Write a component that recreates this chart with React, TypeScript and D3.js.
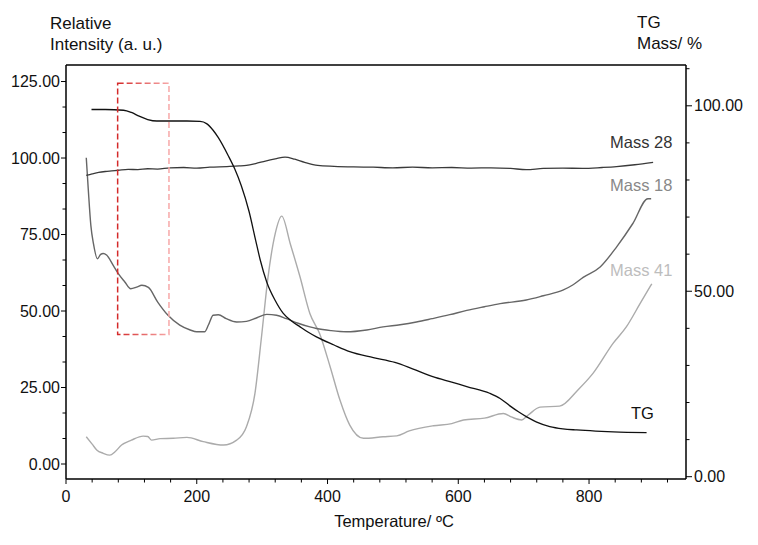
import React from "react";
import * as d3 from "d3";

// ---- data ----
const tgT = [39, 60, 88, 100, 112, 125, 139, 160, 185, 205, 215, 225, 233, 248, 258, 268, 280, 290, 297, 307, 320, 332, 345, 358, 370, 383, 410, 434, 470, 503, 530, 561, 590, 613, 648, 664, 679, 692, 704, 720, 740, 760, 781, 810, 837, 888];
const tgV = [99.0, 99.0, 98.8, 98.2, 97.2, 96.3, 95.9, 95.9, 95.9, 95.8, 95.2, 93.4, 91.4, 86.6, 83.0, 78.5, 71.5, 63.8, 58.5, 52.5, 47.5, 44.1, 42.0, 40.4, 39.0, 37.7, 35.5, 33.7, 32.1, 30.8, 29.1, 27.0, 25.5, 24.3, 22.5, 21.1, 19.1, 17.5, 16.2, 14.7, 13.5, 12.9, 12.6, 12.3, 12.1, 11.9];

const m28T = [31, 40, 50, 60, 70, 80, 95, 110, 125, 140, 159, 180, 200, 220, 246, 265, 276, 290, 305, 320, 335, 350, 365, 385, 410, 440, 470, 500, 530, 560, 590, 620, 650, 680, 704, 730, 760, 790, 820, 842, 870, 898];
const m28V = [94.3, 94.8, 95.3, 95.6, 95.8, 96.0, 96.3, 96.2, 96.5, 96.4, 96.8, 96.9, 96.7, 97.0, 97.2, 97.4, 97.6, 98.2, 99.0, 99.7, 100.3, 99.6, 98.6, 97.6, 97.3, 97.1, 97.0, 96.8, 97.0, 96.8, 96.9, 96.7, 96.8, 96.6, 96.2, 96.6, 96.7, 96.6, 96.9, 97.2, 97.8, 98.6];

const m18T = [31, 34, 38, 42, 48, 53, 57, 62, 72, 80, 90, 99, 108, 116, 126, 140, 156, 174, 190, 200, 212, 218, 225, 233, 245, 261, 276, 292, 307, 322, 337, 355, 373, 383, 405, 429, 460, 485, 511, 536, 560, 587, 613, 640, 664, 704, 730, 760, 775, 791, 817, 842, 867, 890, 895];
const m18V = [100.1, 90, 78, 72, 67.1, 68.5, 68.8, 68.3, 65.0, 62.2, 59.5, 57.3, 57.8, 58.4, 57.7, 53.0, 48.6, 45.4, 43.8, 43.2, 43.2, 45.5, 48.6, 48.8, 47.5, 46.4, 46.6, 47.8, 48.9, 48.6, 47.5, 46.0, 44.8, 44.3, 43.6, 43.2, 43.8, 44.8, 45.5, 46.4, 47.5, 48.8, 50.2, 51.4, 52.4, 53.6, 55.0, 56.8, 58.5, 61.0, 64.4, 70.9, 78.6, 86.7, 86.7];

const m41T = [31, 40, 47, 57, 67, 75, 85, 100, 118, 125, 131, 144, 164, 185, 210, 241, 261, 276, 289, 299, 309, 320, 330, 343, 358, 373, 388, 404, 419, 434, 455, 485, 506, 525, 562, 590, 608, 640, 669, 681, 697, 707, 725, 755, 783, 806, 837, 857, 878, 896];
const m41V = [8.9, 6.5, 4.6, 3.5, 2.9, 4.0, 6.2, 7.8, 9.1, 9.0, 7.8, 8.3, 8.4, 8.7, 7.3, 6.2, 7.8, 12.2, 23.1, 41.5, 61.1, 75.3, 81.0, 72.0, 61.1, 49.2, 42.6, 31.8, 20.9, 12.7, 8.4, 8.9, 9.2, 10.8, 12.5, 13.2, 14.4, 15.0, 16.5, 15.4, 14.4, 16.0, 18.6, 18.9, 24.2, 29.6, 39.5, 44.8, 52.4, 58.9];

const xTickLabels = [0, 200, 400, 600, 800];
const leftTickLabels = [0, 25, 50, 75, 100, 125];
const rightTickLabels = [0, 50, 100];
const boxX = [79, 157.5];
const boxY = [42.3, 124.4];

const FONT = "'Liberation Sans', Arial, Helvetica, sans-serif";

export default function App() {
  const L = 66, R = 686, T = 65, B = 479;
  const x = d3.scaleLinear().domain([0, 948.3]).range([L, R]);
  const yL = d3.scaleLinear().domain([-4.9, 130.4]).range([B, T]);
  const yR = d3.scaleLinear().domain([-0.62, 111.0]).range([B, T]);

  const mk = (ts: number[], vs: number[], ys: d3.ScaleLinear<number, number>) =>
    d3.line<number>().x((_, i) => x(ts[i])).y((v) => ys(v)).curve(d3.curveMonotoneX)(vs) || "";

  const xMinor = d3.range(0, 921, 40);
  const yLMinor = d3.range(0, 126, 25 / 3);
  const yRMinor = d3.range(0, 111, 10);

  const bx0 = x(boxX[0]), bx1 = x(boxX[1]);
  const by0 = yL(boxY[1]), by1 = yL(boxY[0]);

  return (
    <svg width={758} height={545} style={{ position: "absolute", left: 0, top: 0, background: "#fff" }} fontFamily={FONT}>
      <defs>
        <linearGradient id="boxg" gradientUnits="userSpaceOnUse" x1={bx0} y1={0} x2={bx1} y2={0}>
          <stop offset="0" stopColor="#d42a2a" />
          <stop offset="1" stopColor="#f7a8a8" />
        </linearGradient>
      </defs>

      {/* frame */}
      <line x1={L} x2={R} y1={T} y2={T} stroke="#000" strokeWidth={1.5} />
      <line x1={L} x2={R} y1={B} y2={B} stroke="#000" strokeWidth={1.5} />
      <line x1={L} x2={L} y1={T} y2={B} stroke="#000" strokeWidth={1.5} />
      <line x1={R} x2={R} y1={T} y2={B} stroke="#000" strokeWidth={1.5} />

      {/* x ticks */}
      {xMinor.map((t) => (
        <line key={"xm" + t} x1={x(t)} x2={x(t)} y1={B} y2={B + (t % 200 === 0 ? 5 : 3.5)} stroke="#000" strokeWidth={1} />
      ))}
      {xTickLabels.map((t) => (
        <text key={"xl" + t} x={x(t)} y={502} fontSize={16} textAnchor="middle" fill="#111">{t}</text>
      ))}

      {/* left ticks */}
      {yLMinor.map((t, i) => (
        <line key={"lm" + i} x1={L - (i % 3 === 0 ? 5 : 3.5)} x2={L} y1={yL(t)} y2={yL(t)} stroke="#000" strokeWidth={1} />
      ))}
      {leftTickLabels.map((t) => (
        <text key={"ll" + t} x={60} y={yL(t) + 5.5} fontSize={16} textAnchor="end" fill="#111">{t.toFixed(2)}</text>
      ))}

      {/* right ticks */}
      {yRMinor.map((t) => (
        <line key={"rm" + t} x1={R} x2={R + (t % 50 === 0 ? 6 : 3.5)} y1={yR(t)} y2={yR(t)} stroke="#000" strokeWidth={1} />
      ))}
      {rightTickLabels.map((t) => (
        <text key={"rl" + t} x={694} y={yR(t) + 5.5} fontSize={16} textAnchor="start" fill="#111">{t.toFixed(2)}</text>
      ))}

      {/* titles */}
      <text x={50} y={29} fontSize={17} fill="#111">Relative</text>
      <text x={50} y={50} fontSize={17} fill="#111">Intensity (a. u.)</text>
      <text x={637} y={27.5} fontSize={17} fill="#111">TG</text>
      <text x={637} y={48.5} fontSize={17} fill="#111">Mass/ %</text>
      <text x={394} y={527} fontSize={16.5} textAnchor="middle" fill="#111">Temperature/ ºC</text>

      {/* series */}
      <path d={mk(m41T, m41V, yL)} fill="none" stroke="#ababab" strokeWidth={1.4} />
      <path d={mk(m18T, m18V, yL)} fill="none" stroke="#666" strokeWidth={1.4} />
      <path d={mk(m28T, m28V, yL)} fill="none" stroke="#3a3a3a" strokeWidth={1.3} />
      <path d={mk(tgT, tgV, yR)} fill="none" stroke="#111" strokeWidth={1.3} />

      {/* highlight box */}
      <rect x={bx0} y={by0} width={bx1 - bx0} height={by1 - by0} fill="none" stroke="url(#boxg)" strokeWidth={1.5} strokeDasharray="6,3" />

      {/* series labels */}
      <text x={610} y={148} fontSize={16.5} fill="#333">Mass 28</text>
      <text x={610} y={190.5} fontSize={16.5} fill="#888">Mass 18</text>
      <text x={610} y={275.5} fontSize={16.5} fill="#bdbdbd">Mass 41</text>
      <text x={631} y={419} fontSize={16.5} fill="#111">TG</text>
    </svg>
  );
}
